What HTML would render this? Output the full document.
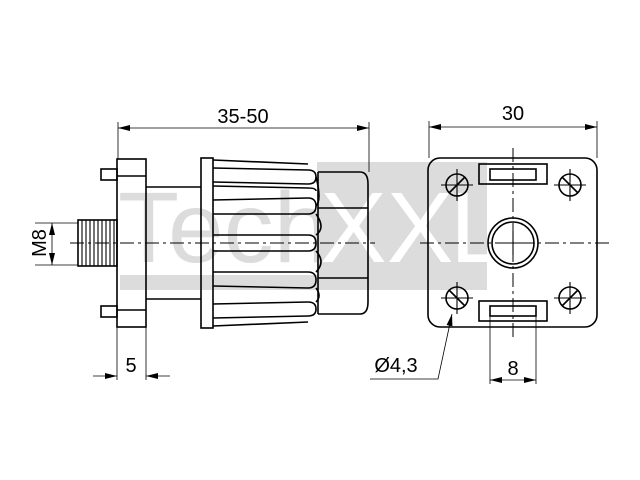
<!DOCTYPE html>
<html><head><meta charset="utf-8"><style>html,body{margin:0;padding:0;background:#fff}svg{display:block}</style></head>
<body>
<svg width="640" height="480" viewBox="0 0 640 480" xmlns="http://www.w3.org/2000/svg" font-family="Liberation Sans, sans-serif">
<defs>
<marker id="a" viewBox="0 0 12 6" refX="12" refY="3" markerWidth="12" markerHeight="6" orient="auto-start-reverse" markerUnits="userSpaceOnUse"><path d="M0,0 L12,3 L0,6z" fill="#000"/></marker>
</defs>
<rect x="317" y="162" width="170" height="128" fill="#dcdcdc"/>
<rect x="120" y="275" width="197" height="15" fill="#dcdcdc"/>
<text x="118" y="262" font-size="100" fill="#dcdcdc">Tech</text>
<text x="320" y="262" font-size="100" fill="#fff">XX</text>
<text x="450" y="262" font-size="100" fill="#fff">L</text>

<g fill="none" stroke="#000" stroke-width="1.6">
<rect x="101" y="169" width="16" height="11"/>
<rect x="101" y="306" width="16" height="11"/>
<rect x="117" y="159" width="29" height="168"/>
<line x1="117" y1="176" x2="146" y2="176"/>
<line x1="117" y1="310" x2="146" y2="310"/>
<rect x="78" y="220" width="39" height="46"/>
<line x1="146" y1="187" x2="201" y2="187"/>
<line x1="146" y1="299" x2="201" y2="299"/>
<rect x="201" y="158" width="12" height="170"/>
<path d="M213,160 L308,164 M213,326 L308,322"/>
<path d="M213,168 L308,170 Q316,170 316,177 Q316,184 308,184 L213,182"/>
<path d="M213,186 L308,188 Q316,188 316,191"/>
<path d="M213,200 L308,198 Q316,198 316,206 Q316,214 308,214 L213,214"/>
<path d="M213,235 L308,235 Q316,235 316,243 Q316,251 308,251 L213,251"/>
<path d="M213,272 L308,272 Q316,272 316,280 Q316,288 308,288 L213,286"/>
<path d="M213,304 L308,302 Q316,302 316,309 Q316,316 308,316 L213,318"/>
<path d="M316,177 Q322,200 316,206 M316,214 Q326,228 316,235 M316,251 Q326,262 316,272 M316,288 Q322,296 316,302"/>
<path d="M318,172 L360,172 Q368,172 368,184 L368,302 Q368,314 360,314 L318,314"/>
<line x1="318" y1="172" x2="318" y2="314"/>
<line x1="318" y1="208" x2="368" y2="208"/>
<line x1="318" y1="278" x2="368" y2="278"/>
<rect x="428" y="158" width="169" height="169" rx="12"/>
<rect x="479" y="164" width="68" height="20"/>
<rect x="490" y="169" width="46" height="11"/>
<rect x="479" y="301" width="68" height="20"/>
<rect x="490" y="306" width="46" height="10"/>
<circle cx="513" cy="243" r="25"/>
<circle cx="513" cy="243" r="21"/>
<circle cx="457" cy="185" r="11"/><circle cx="570" cy="185" r="11"/>
<circle cx="457" cy="298" r="11"/><circle cx="570" cy="298" r="11"/>
<path d="M449,193 L465,177 M562,177 L578,193 M449,290 L465,306 M562,306 L578,290"/>
</g>
<g stroke="#000" stroke-width="1.1">
<path d="M441,185 H473 M457,169 V201 M554,185 H586 M570,169 V201 M441,298 H473 M457,282 V314 M554,298 H586 M570,282 V314"/>
<path d="M501,243 H525 M513,231 V255"/>
<path d="M82,220V266 M86,220V266 M90,220V266 M94,220V266 M98,220V266 M102,220V266 M106,220V266 M110,220V266 M114,220V266"/>
</g>
<g stroke="#000" stroke-width="1" stroke-dasharray="14,4,3,4">
<line x1="70" y1="243" x2="375" y2="243"/>
<line x1="420" y1="243" x2="610" y2="243"/>
<line x1="513" y1="148" x2="513" y2="338"/>
</g>
<g stroke="#000" stroke-width="0.8" fill="none">
<line x1="118" y1="122" x2="118" y2="159"/>
<line x1="369" y1="122" x2="369" y2="172"/>
<line x1="118" y1="128" x2="369" y2="128" marker-start="url(#a)" marker-end="url(#a)"/>
<line x1="429" y1="121" x2="429" y2="158"/>
<line x1="597" y1="121" x2="597" y2="158"/>
<line x1="429" y1="127" x2="597" y2="127" marker-start="url(#a)" marker-end="url(#a)"/>
<line x1="35" y1="223" x2="78" y2="223"/>
<line x1="35" y1="265" x2="78" y2="265"/>
<line x1="52" y1="223" x2="52" y2="265" marker-start="url(#a)" marker-end="url(#a)"/>
<line x1="117" y1="327" x2="117" y2="380"/>
<line x1="146" y1="327" x2="146" y2="380"/>
<line x1="93" y1="376" x2="117" y2="376" marker-end="url(#a)"/>
<line x1="170" y1="376" x2="146" y2="376" marker-end="url(#a)"/>
<line x1="490" y1="316" x2="490" y2="384"/>
<line x1="536" y1="316" x2="536" y2="384"/>
<line x1="490" y1="380" x2="536" y2="380" marker-start="url(#a)" marker-end="url(#a)"/>
<polyline points="370,379 438,379 452,314" marker-end="url(#a)"/>
</g>
<g font-size="20" fill="#000" text-anchor="middle">
<text x="243" y="123">35-50</text>
<text x="513" y="120">30</text>
<text x="131" y="372">5</text>
<text x="513" y="375">8</text>
<text x="396" y="372">Ø4,3</text>
<text x="0" y="0" transform="translate(46,243) rotate(-90)">M8</text>
</g>
</svg>
</body></html>
